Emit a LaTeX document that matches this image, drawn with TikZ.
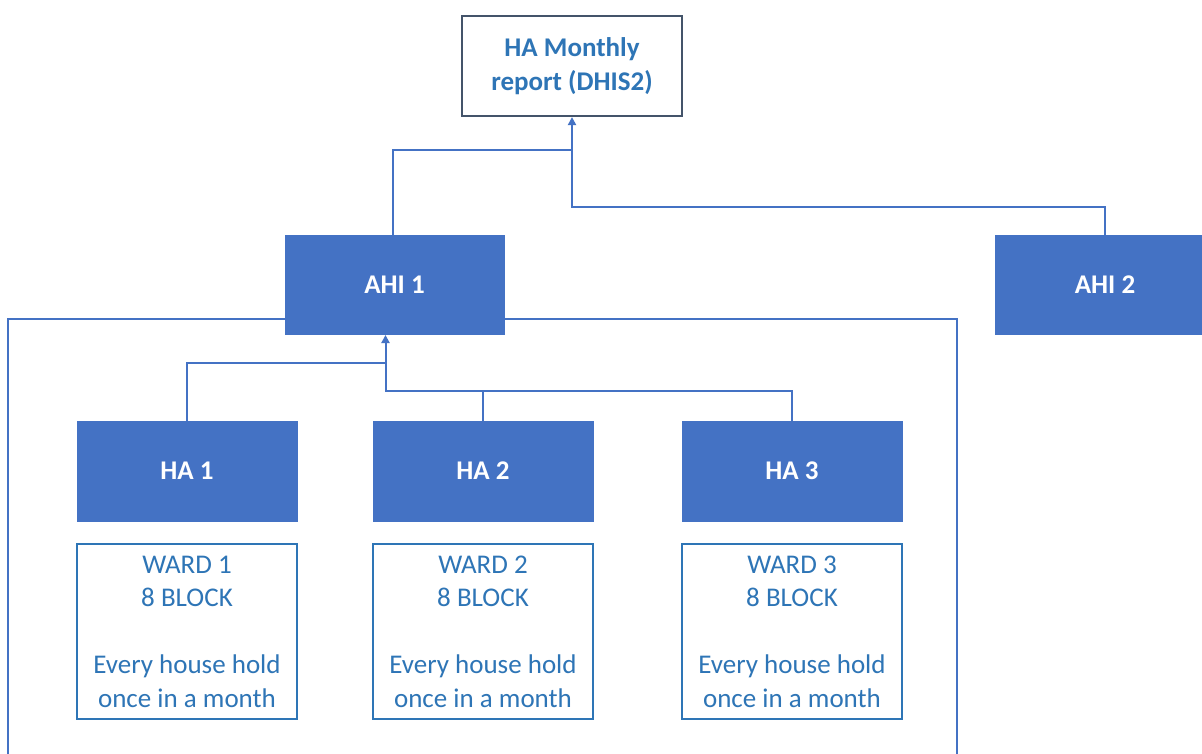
\documentclass[tikz,border=0pt]{standalone}
\usepackage{fontspec}
\setmainfont{Carlito}
\usetikzlibrary{arrows.meta,calc}
\definecolor{boxblue}{HTML}{4472C4}
\definecolor{txtblue}{HTML}{2E75B6}
\definecolor{darkedge}{HTML}{44546A}
\tikzset{
  px/.style={x=1pt,y=-1pt},
  filledbox/.style={rectangle,fill=boxblue,draw=boxblue,line width=1pt,minimum width=219pt,minimum height=99pt,inner sep=0pt,text=white,font=\fontsize{27}{33.5}\selectfont\bfseries},
  topbox/.style={rectangle,draw=darkedge,line width=2.2pt,fill=white,minimum width=220pt,minimum height=100pt,inner sep=0pt,align=center,text=txtblue,font=\fontsize{27}{33.5}\selectfont\bfseries},
  wardbox/.style={rectangle,draw=txtblue,line width=2.2pt,minimum width=220pt,minimum height=175pt,inner sep=0pt,align=center,text=txtblue,font=\fontsize{27}{33.5}\selectfont},
  conn/.style={draw=boxblue,line width=2pt},
  tip/.style={-{Triangle[width=8pt,length=8pt]}},
  cont/.style={draw=boxblue,line width=2pt}
}
\begin{document}
\begin{tikzpicture}[px]
\useasboundingbox (0,0) rectangle (1202,754);
\clip (0,0) rectangle (1202,754);
\fill[white] (0,0) rectangle (1202,754);
% container around AHI 1 group
\draw[cont] (8,760) -- (8,319) -- (957,319) -- (957,760);
% nodes
\node[topbox] (top) at (572,66) {HA Monthly\\report (DHIS2)};
\node[filledbox] (ahi1) at (394.5,285) {AHI 1};
\node[filledbox,minimum width=219pt] (ahi2) at (1105,285) {AHI 2};
\node[filledbox,minimum width=220pt,minimum height=100pt] (ha1) at (187,471) {HA 1};
\node[filledbox,minimum width=220pt,minimum height=100pt] (ha2) at (483,471) {HA 2};
\node[filledbox,minimum width=220pt,minimum height=100pt] (ha3) at (792,471) {HA 3};
\node[wardbox] (w1) at (187,631.5) {WARD 1\\8 BLOCK\\[33.5pt]Every house hold\\once in a month};
\node[wardbox] (w2) at (483,631.5) {WARD 2\\8 BLOCK\\[33.5pt]Every house hold\\once in a month};
\node[wardbox] (w3) at (792,631.5) {WARD 3\\8 BLOCK\\[33.5pt]Every house hold\\once in a month};
% junction coordinates
\coordinate (tj1) at (top.south |- 0,150);
\coordinate (tj2) at (top.south |- 0,207);
\coordinate (a1in) at ($(ahi1.south)+(-9,0)$);
\coordinate (hj1) at (a1in |- 0,363);
\coordinate (hj2) at (a1in |- 0,391);
% connectors to top
\draw[conn] ($(ahi1.north)+(-1.5,0)$) |- (tj1);
\draw[conn,tip] (ahi2.north) |- (tj2) -- (top.south);
% connectors to AHI 1
\draw[conn] (ha1.north) |- (hj1);
\draw[conn] (ha2.north) -- (ha2.north |- hj2);
\draw[conn,tip] (ha3.north) |- (hj2) -- (a1in);
\end{tikzpicture}
\end{document}
